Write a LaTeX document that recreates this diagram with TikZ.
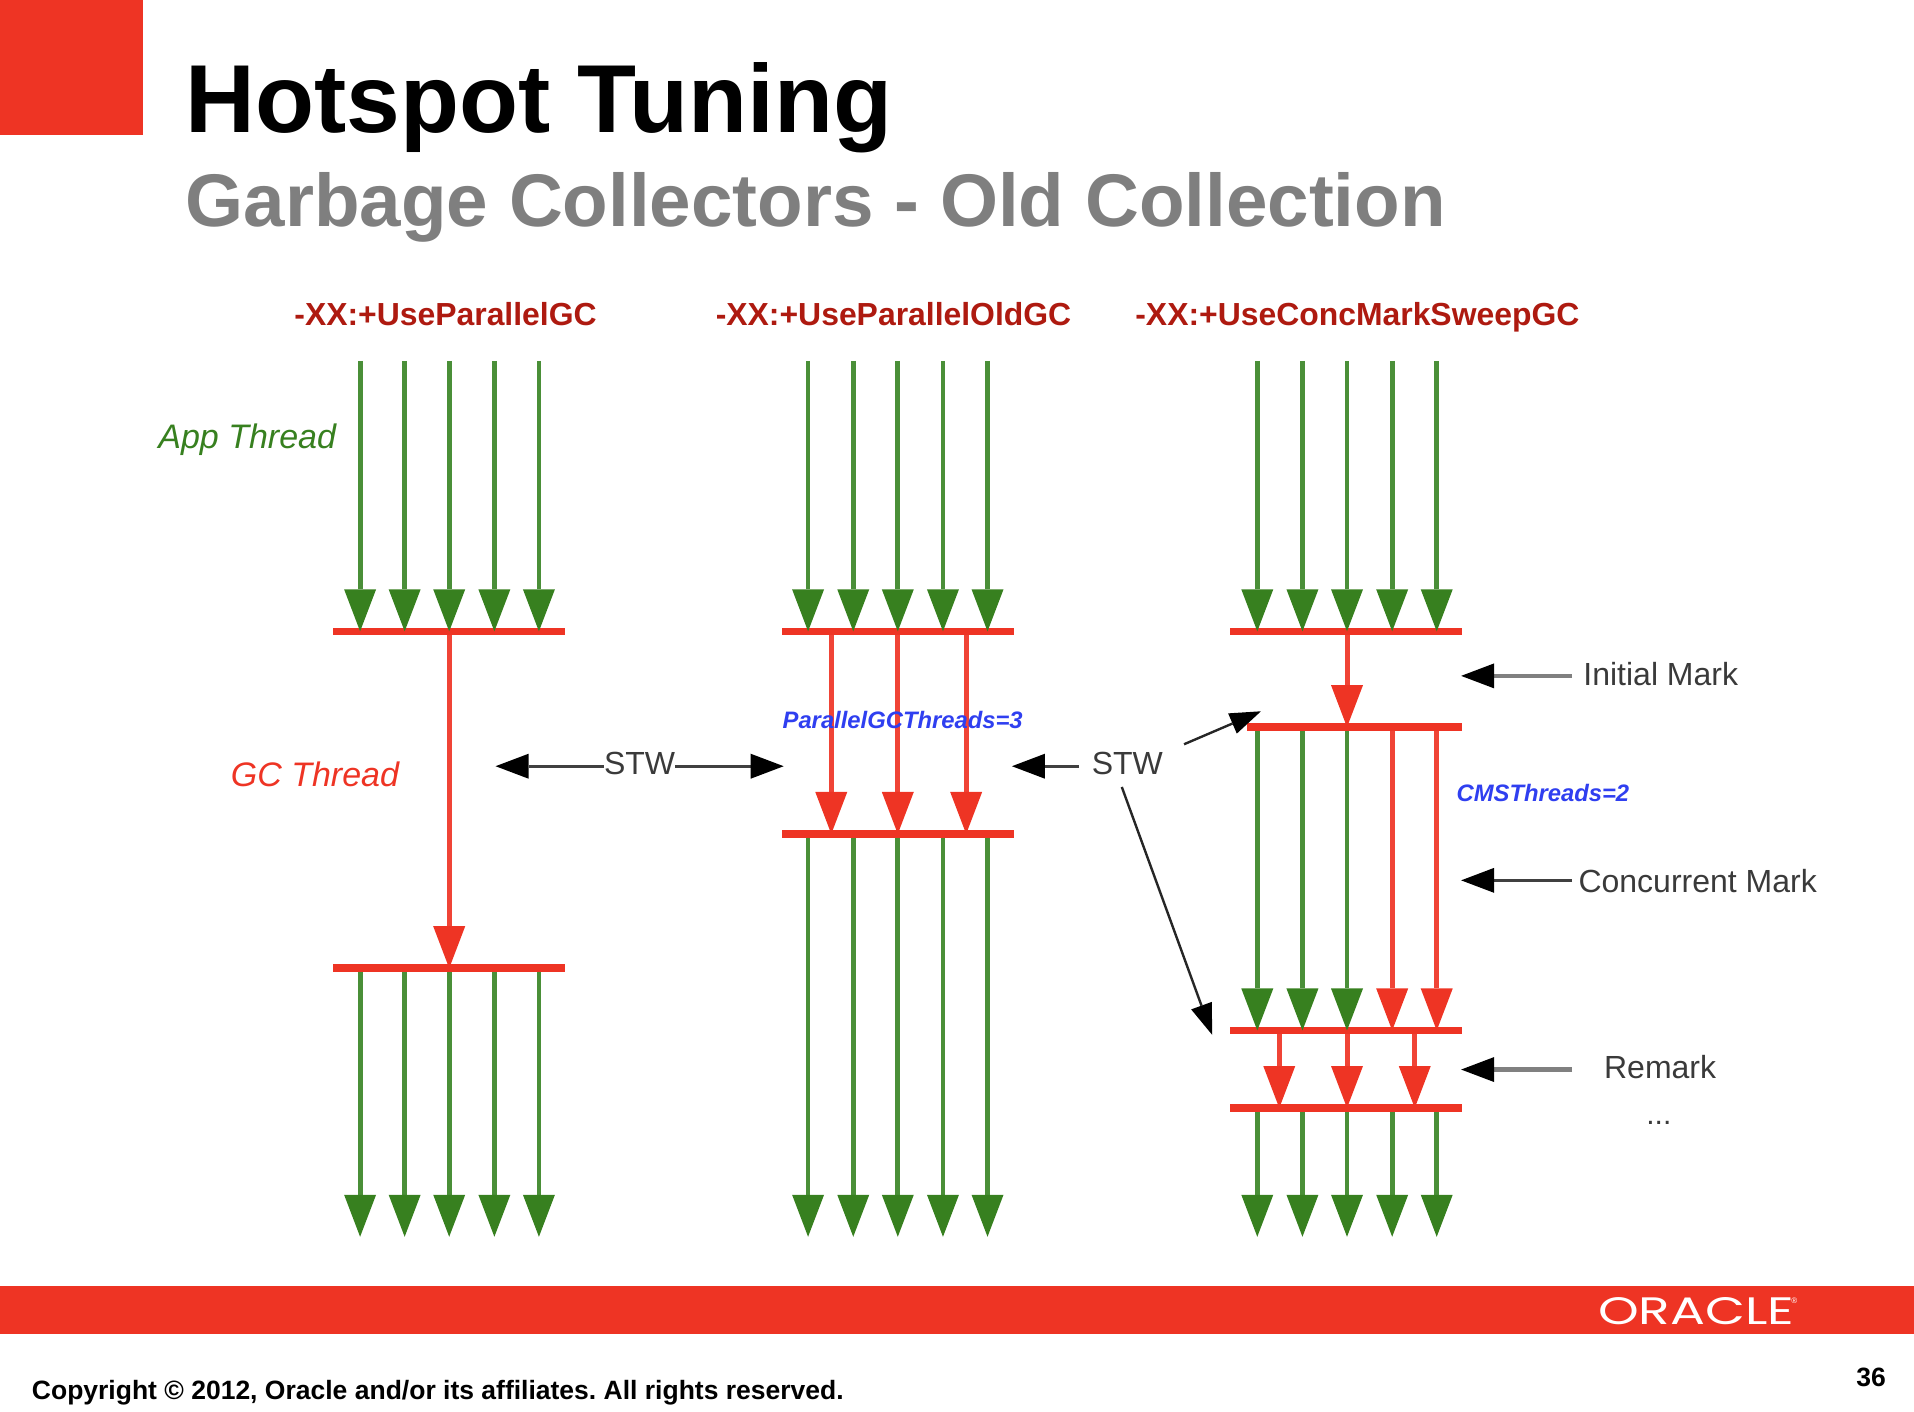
\documentclass[tikz,border=0pt]{standalone}
\usepackage{fontspec}
\usepackage{graphicx}
\setmainfont{Liberation Sans}
\newfontfamily\logofont{Poppins}
\usetikzlibrary{arrows.meta}
\frenchspacing
\definecolor{orared}{HTML}{EE3424}
\definecolor{thgreen}{HTML}{37801F}
\definecolor{thgreenl}{HTML}{4A8F38}
\definecolor{thred}{HTML}{F04436}
\definecolor{optred}{HTML}{AE1A10}
\definecolor{subgray}{HTML}{7F7F7F}
\definecolor{optblue}{HTML}{2F3FF0}
\definecolor{lblgray}{HTML}{3A3A3A}
\tikzset{
  bar/.style={fill=orared,draw=none,inner sep=0pt,minimum height=7.5pt},
  gth/.style={draw=thgreenl,line width=4.8pt,-{Triangle[length=42pt,width=32pt,line width=0pt,color=thgreen,fill=thgreen]}},
  rth/.style={draw=thred,line width=5pt,-{Triangle[length=42pt,width=32pt,line width=0pt,color=orared,fill=orared]}},
  blk/.style={draw=black!50,line width=4.5pt,-{Triangle[length=33pt,width=25pt,line width=0pt,color=black,fill=black]}},
  blkd/.style={draw=black!75,line width=3.2pt,-{Triangle[length=33pt,width=25pt,line width=0pt,color=black,fill=black]}},
  thin/.style={draw=black!85,line width=2.4pt,-{Triangle[length=31pt,width=22pt,line width=0pt,color=black,fill=black]}},
  head/.style={inner sep=0pt,anchor=base,font=\bfseries\fontsize{31.9}{36}\selectfont,text=optred},
  lbl/.style={inner sep=0pt,font=\fontsize{32}{38}\selectfont,text=lblgray},
  sty/.style={inner sep=0pt,font=\itshape\fontsize{34}{40}\selectfont},
  opt/.style={inner sep=0pt,font=\bfseries\itshape\fontsize{23.8}{28}\selectfont,text=optblue},
  foot/.style={inner sep=0pt,font=\bfseries\fontsize{26.5}{31}\selectfont,text=black}
}
\begin{document}
\begin{tikzpicture}[x=1.2207pt,y=-1.2207pt]
\useasboundingbox (0,-0.7) rectangle (1568,1156);
% brand blocks
\fill[orared] (0,-0.7) rectangle (117,109.5);
\fill[orared] (0,1052.5) rectangle (1568,1092);
\node[anchor=base west,inner sep=0pt,font=\bfseries\fontsize{96.6}{110}\selectfont] (title) at (152,108) {Hotspot Tuning};
\node[anchor=base west,inner sep=0pt,font=\bfseries\fontsize{74.6}{86}\selectfont,text=subgray] (subtitle) at (152,185) {Garbage Collectors - Old Collection};
\node[anchor=west,inner sep=0pt,text=white] (logo) at (1309,1073) {\resizebox{196pt}{27pt}{\logofont ORACLE}};
\node[anchor=center,inner sep=0pt,text=white,font=\fontsize{8}{9}\selectfont] (logor) at (1470,1065) {®};
\node[foot,anchor=base west] (copy) at (26,1146) {Copyright © 2012, Oracle and/or its affiliates. All rights reserved.};
\node[foot,anchor=base east] (page) at (1545,1135) {36};
% headings
\node[head] (h1) at (365,266.3) {-XX:+UseParallelGC};
\node[head] (h2) at (732,266.3) {-XX:+UseParallelOldGC};
\node[head] (h3) at (1112,266.3) {-XX:+UseConcMarkSweepGC};
\node[sty,text=thgreen] (app) at (202.5,359.5) {App Thread};
\node[sty,text=orared] (gc) at (258,633.5) {GC Thread};
% reference lines
\coordinate (top) at (0,295);
\coordinate (bot) at (0,1012.5);
\foreach \n/\x in {a1/295,a2/331.5,a3/368,a4/405,a5/441.5,
                   b1/662,b2/699,b3/735.5,b4/772.5,b5/809,
                   c1/1030,c2/1067,c3/1103.5,c4/1140.5,c5/1177,
                   br1/681,br3/791.5,cr1/1048,cr3/1159}
  {\coordinate (\n) at (\x,0);}
% bars
\node[bar,minimum width=232pt] (A1) at (368,516.5) {};
\node[bar,minimum width=232pt] (A2) at (368,792.5) {};
\node[bar,minimum width=232pt] (B1) at (736,516.5) {};
\node[bar,minimum width=232pt] (B2) at (736,682.5) {};
\node[bar,minimum width=232pt] (C1) at (1103,516.5) {};
\node[bar,minimum width=215pt] (C2) at (1110,595) {};
\node[bar,minimum width=232pt] (C3) at (1103,843.5) {};
\node[bar,minimum width=232pt] (C4) at (1103,907) {};
% threads: first column
\foreach \c in {a1,a2,a3,a4,a5} {
  \draw[gth] (\c|-top) -- (\c|-A1);
  \draw[gth] (\c|-A2.south) -- (\c|-bot);
}
\draw[rth] (a3|-A1.south) -- (a3|-A2);
% threads: second column
\foreach \c in {b1,b2,b3,b4,b5} {
  \draw[gth] (\c|-top) -- (\c|-B1);
  \draw[gth] (\c|-B2.south) -- (\c|-bot);
}
\foreach \c in {br1,b3,br3} {\draw[rth] (\c|-B1.south) -- (\c|-B2);}
% threads: third column
\foreach \c in {c1,c2,c3,c4,c5} {
  \draw[gth] (\c|-top) -- (\c|-C1);
  \draw[gth] (\c|-C4.south) -- (\c|-bot);
}
\draw[rth] (c3|-C1.south) -- (c3|-C2);
\foreach \c in {c1,c2,c3} {\draw[gth] (\c|-C2.south) -- (\c|-C3);}
\foreach \c in {c4,c5} {\draw[rth] (\c|-C2.south) -- (\c|-C3);}
\foreach \c in {cr1,c3,cr3} {\draw[rth] (\c|-C3.south) -- (\c|-C4);}
% option labels
\node[opt] (pt) at (739.5,589) {ParallelGCThreads=3};
\node[opt] (ct) at (1264,649) {CMSThreads=2};
% phase labels
\node[lbl,anchor=west] (im) at (1297,551.5) {Initial Mark};
\node[lbl,anchor=west] (cm) at (1293,721) {Concurrent Mark};
\node[lbl] (rm) at (1360,873.5) {Remark};
\node[lbl,font=\fontsize{30}{34}\selectfont] (dots) at (1359,919) {...};
\coordinate (imt) at (1197,553);
\coordinate (imf) at (1288,553);
\coordinate (cmt) at (1197,720.5);
\coordinate (cmf) at (1288,720.5);
\coordinate (rmt) at (1197,875.5);
\coordinate (rmf) at (1288,875.5);
\draw[blk] (imf) -- (imt);
\draw[blkd] (cmf) -- (cmt);
\draw[blk] (rmf) -- (rmt);
% STW
\node[lbl] (s1) at (524,625) {STW};
\node[lbl] (s2) at (923.5,625) {STW};
\coordinate (s1l) at (406,627);
\coordinate (s1r) at (642,627);
\coordinate (s1la) at (495,627);
\coordinate (s1ra) at (553,627);
\coordinate (s2t) at (829,627);
\coordinate (s2f) at (884,627);
\coordinate (s2a1) at (970,609);
\coordinate (s2a2) at (1033,582);
\coordinate (s2b1) at (919,644);
\coordinate (s2b2) at (993,847);
\draw[blkd] (s1la) -- (s1l);
\draw[blkd] (s1ra) -- (s1r);
\draw[blkd] (s2f) -- (s2t);
\draw[thin] (s2a1) -- (s2a2);
\draw[thin] (s2b1) -- (s2b2);
\end{tikzpicture}
\end{document}
